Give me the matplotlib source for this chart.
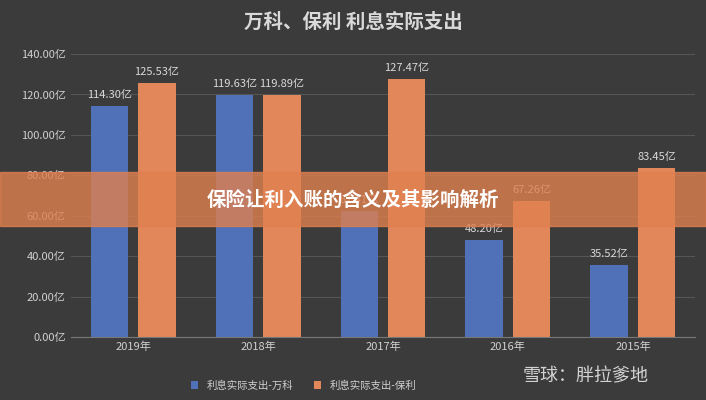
import matplotlib
matplotlib.use("Agg")
import matplotlib.pyplot as plt
import numpy as np

plt.rcParams['font.family'] = ['Noto Sans CJK SC', 'DejaVu Sans']

years = ["2019年", "2018年", "2017年", "2016年", "2015年"]
vanke = [114.30, 119.63, 62.41, 48.20, 35.52]
poly = [125.53, 119.89, 127.47, 67.26, 83.45]
yticks = [0, 20, 40, 60, 80, 100, 120, 140]

bg = "#3b3b3b"
fig = plt.figure(figsize=(7.06, 4.0), dpi=100, facecolor=bg)
ax = fig.add_axes([0.1, 0.157, 0.885, 0.708], facecolor=bg)
x = np.arange(len(years))
w = 0.3
b1 = ax.bar(x - 0.19, vanke, w, color="#5070b8", label="利息实际支出-万科")
b2 = ax.bar(x + 0.19, poly, w, color="#e2875a", label="利息实际支出-保利")
for bars, vals in ((b1, vanke), (b2, poly)):
    for r, v in zip(bars, vals):
        ax.text(r.get_x() + r.get_width() / 2, v + 3, f"{v:.2f}亿", ha="center", va="bottom",
                color="#d9d9d9", fontsize=8)
ax.set_ylim(0, 140)
ax.set_xlim(-0.5, 4.5)
ax.set_yticks(yticks)
ax.set_yticklabels([f"{t:.2f}亿" for t in yticks], color="#d0d0d0", fontsize=8)
ax.set_xticks(x)
ax.set_xticklabels(years, color="#d0d0d0", fontsize=8)
ax.grid(axis="y", color="#555555", linewidth=0.8)
ax.set_axisbelow(True)
for s in ax.spines.values():
    s.set_visible(False)
ax.spines["bottom"].set_visible(True)
ax.spines["bottom"].set_color("#777777")
ax.tick_params(length=0)
fig.text(0.5, 0.945, "万科、保利 利息实际支出", ha="center", va="center", color="#d9d9d9",
         fontsize=14, fontweight="bold")
fig.legend(handles=[b1, b2], loc="lower center", bbox_to_anchor=(0.43, 0.0), ncol=2,
           frameon=False, fontsize=7.5, labelcolor="#d0d0d0", handlelength=0.7, handleheight=0.7)
# banner overlay
fig.patches.append(matplotlib.patches.Rectangle((0, 1 - 226/400), 1, 54/400, transform=fig.transFigure,
                   color="#e0804f", alpha=0.8, zorder=10))
fig.text(0.5, 1 - 200/400, "保险让利入账的含义及其影响解析", ha="center", va="center", color="white",
         fontsize=14, fontweight="bold", zorder=11)
fig.text(0.83, 0.06, "雪球：胖拉爹地", ha="center", va="center", color="#eeeeee", fontsize=13, alpha=0.85, zorder=11)
fig.savefig("out.png", dpi=100, facecolor=bg)
